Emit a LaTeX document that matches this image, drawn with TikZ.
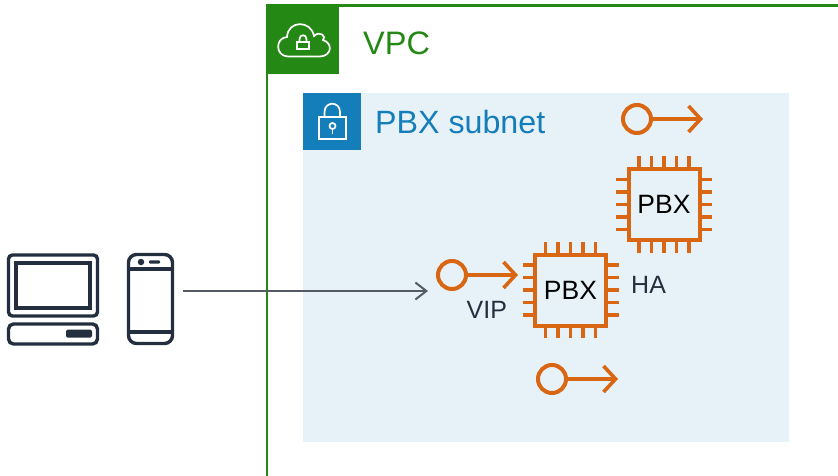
\documentclass[tikz,border=0pt]{standalone}
\usepackage{fontspec}
\setmainfont{Liberation Sans}
\usetikzlibrary{arrows.meta}
\definecolor{vpcgreen}{HTML}{248814}
\definecolor{subnetblue}{HTML}{147EBA}
\definecolor{subnetfill}{HTML}{E6F1F8}
\definecolor{pbxorange}{HTML}{D86613}
\definecolor{devicedark}{HTML}{232F3E}
\definecolor{linkgray}{HTML}{545B64}
\def\chipsize{71pt}

\begin{document}
\begin{tikzpicture}[x=1pt,y=-1pt]
      \tikzstyle{chip}=[draw=pbxorange,line width=4pt,minimum size=\chipsize,inner sep=0pt,text=black,font=\fontsize{26.5}{30}\selectfont]
      \tikzstyle{chip leg}=[draw=pbxorange,line width=3.6pt]
      \tikzstyle{endpoint}=[circle,draw=pbxorange,line width=4pt,minimum size=28pt,inner sep=0pt,outer sep=0pt]
      \tikzstyle{endpoint line}=[draw=pbxorange,line width=3.4pt,-{Straight Barb[length=12pt,width=26pt,line width=3.6pt]}]
      \tikzstyle{device}=[draw=devicedark,line width=3.4pt,inner sep=0pt]
      \tikzstyle{white line}=[draw=white,line width=1.7pt]
      \tikzstyle{annot}=[anchor=base west,inner sep=0pt,text=devicedark,font=\fontsize{25}{30}\selectfont]
      \tikzstyle{title}=[anchor=base west,inner sep=0pt,font=\fontsize{32.5}{36}\selectfont]

      \useasboundingbox (0,0) rectangle (838,476);

      % Draw the VPC frame
      \coordinate (F-1) at (267,476);
      \coordinate (F-2) at (267,5.5);
      \coordinate (F-3) at (838,5.5);
      \draw[vpcgreen,line width=2.8pt] (F-1) -- (F-2) -- (F-3);
      \fill[vpcgreen] (266,4.5) rectangle (339,74);
      \node[title,text=vpcgreen] (vpc) at (363,55) {VPC};

      % Draw the subnet
      \fill[subnetfill] (303,93) rectangle (789,442);
      \fill[subnetblue] (303,93) rectangle (361,150);
      \node[title,text=subnetblue,font=\fontsize{32.2}{36}\selectfont] (subnet) at (375,134) {PBX subnet};

      % Cloud and lock icons
      \draw[white line] (288,56.5) .. controls (275,56) and (275,38) .. (287,37)
          .. controls (288,20) and (311,20) .. (314,36)
          .. controls (320,30) and (327,37) .. (323,40)
          .. controls (333,43) and (332,56) .. (320,56.5) -- cycle;
      \draw[white line] (297,42) rectangle (309,49);
      \draw[white line] (299.5,42) -- (299.5,39) .. controls (299.5,34) and (306.5,34) .. (306.5,39) -- (306.5,42);
      \draw[white line] (319,117) rectangle (346,139);
      \draw[white line] (324.5,117) -- (324.5,112) .. controls (324.5,101) and (340,101) .. (340,112) -- (340,117);
      \node[circle,draw=white,line width=1.7pt,minimum size=6pt,inner sep=0pt] (keyhole) at (332.5,126) {};
      \coordinate (keyhole-end) at (332.5,134);
      \draw[white line] (keyhole) -- (keyhole-end);

      % Draw the chips and their legs
      \foreach \name / \cx / \cy in {1/570.5/290,2/664/204.5}
          \node[chip] (C-\name) at (\cx,\cy) {PBX};
      \foreach \name in {1,2}
          \foreach \d in {-25,-12.5,0,12.5,25}
          {
              \draw[chip leg] ([shift={(\d,-37)}]C-\name.center) -- ++(0,-11);
              \draw[chip leg] ([shift={(\d,37)}]C-\name.center) -- ++(0,11);
              \draw[chip leg] ([shift={(-37,\d)}]C-\name.center) -- ++(-11,0);
              \draw[chip leg] ([shift={(37,\d)}]C-\name.center) -- ++(11,0);
          }

      % Draw the endpoints
      \foreach \name / \cx / \cy / \tx in {1/452/275/518,2/552/379/618,3/637/119/703}
      {
          \node[endpoint] (E-\name) at (\cx,\cy) {};
          \coordinate (T-\name) at (\tx,\cy);
          \draw[endpoint line] (E-\name) -- (T-\name);
      }

      % Annotate
      \node[annot] (vip) at (466.5,318) {VIP};
      \node[annot] (ha) at (631,293) {HA};

      % Draw the devices
      \node[device,rounded corners=4pt,minimum width=89pt,minimum height=61pt] (monitor) at (53,285.5) {};
      \node[device,minimum width=74pt,minimum height=45pt] (screen) at (53,285.5) {};
      \node[device,rounded corners=5pt,minimum width=89pt,minimum height=20pt] (base) at (53,334) {};
      \node[fill=devicedark,rounded corners=1.5pt,minimum width=26pt,minimum height=8pt,inner sep=0pt] (button) at (79,333.5) {};
      \node[device,rounded corners=8pt,minimum width=44pt,minimum height=89pt] (phone) at (150.5,299) {};
      \coordinate (phone-top-l) at (127,269);
      \coordinate (phone-top-r) at (174,269);
      \coordinate (phone-bot-l) at (127,332);
      \coordinate (phone-bot-r) at (174,332);
      \draw[device] (phone-top-l) -- (phone-top-r);
      \draw[device] (phone-bot-l) -- (phone-bot-r);
      \node[circle,fill=devicedark,minimum size=6.5pt,inner sep=0pt] (camera) at (141,262) {};
      \node[fill=devicedark,rounded corners=1pt,minimum width=11pt,minimum height=3.4pt,inner sep=0pt] (speaker) at (154.5,262) {};

      % Connect the devices with the VIP
      \coordinate (link-start) at (183,291);
      \coordinate (link-end) at (428,291);
      \draw[linkgray,line width=2pt,-{Straight Barb[length=11pt,width=17pt,line width=2pt]}] (link-start) -- (link-end);
\end{tikzpicture}
\end{document}
